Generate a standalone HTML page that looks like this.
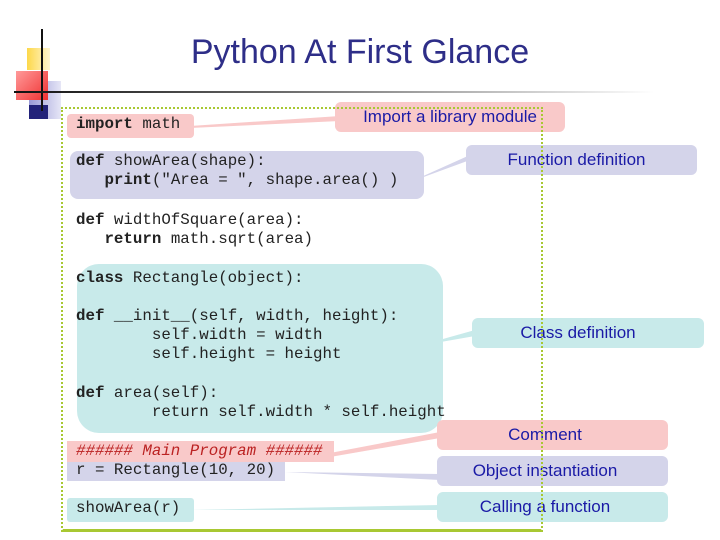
<!DOCTYPE html>
<html><head><meta charset="utf-8"><style>
body{margin:0;width:720px;height:540px;background:#fff;position:relative;overflow:hidden;font-family:"Liberation Sans",sans-serif}
.a{position:absolute}
.c{position:absolute;font-family:"Liberation Mono",monospace;font-size:15.8px;color:#222;white-space:pre;line-height:19px}
.c b{font-weight:bold}
.co{position:absolute;border-radius:6px;color:#1a1aa6;font-size:17px;text-align:center;line-height:30px}
.pk{background:#f9c9c9}.lv{background:#d4d4ea}.cy{background:#c8eaea}
</style></head><body>
<div class="a" style="left:27px;top:48px;width:23px;height:22px;background:linear-gradient(90deg,#fdd84a,#fff6d0)"></div>
<div class="a" style="left:29px;top:81px;width:32px;height:38px;background:linear-gradient(90deg,#9a9ad8,#e6e6f6)"></div>
<div class="a" style="left:16px;top:71px;width:32px;height:29px;background:linear-gradient(135deg,#ff9a9a,#f03030)"></div>
<div class="a" style="left:29px;top:105px;width:19px;height:14px;background:#22227a"></div>
<div class="a" style="left:41px;top:29px;width:2px;height:82px;background:#111"></div>
<div class="a" style="left:14px;top:91px;width:640px;height:2px;background:linear-gradient(90deg,#111,#666 40%,#fff)"></div>
<div class="a" style="left:0;top:33px;width:720px;text-align:center;font-size:34px;color:#2e2e88">Python At First Glance</div>
<svg class="a" style="left:0;top:0" width="720" height="540">
<polygon points="190,126 340,116 340,121 190,128" fill="#f9c9c9"/>
<polygon points="410,182 470,155 470,160" fill="#d4d4ea"/>
<polygon points="418,346 475,330 475,336" fill="#c8eaea"/>
<polygon points="330,453 440,432 440,438 330,457" fill="#f9c9c9"/>
<polygon points="285,472 440,474 440,480" fill="#d4d4ea"/>
<polygon points="190,510 440,505 440,510" fill="#c8eaea"/>
</svg>
<div class="a pk" style="left:67px;top:114px;width:127px;height:24px;border-radius:4px"></div>
<div class="a lv" style="left:70px;top:151px;width:354px;height:48px;border-radius:8px"></div>
<div class="a cy" style="left:77px;top:264px;width:366px;height:169px;border-radius:22px"></div>
<div class="a pk" style="left:67px;top:441px;width:267px;height:21px"></div>
<div class="a lv" style="left:67px;top:462px;width:218px;height:19px"></div>
<div class="a cy" style="left:67px;top:498px;width:127px;height:24px;border-radius:3px"></div>
<div class="co pk" style="left:335px;top:102px;width:230px;height:30px">Import a library module</div>
<div class="co lv" style="left:466px;top:145px;width:231px;height:30px;text-indent:-10px">Function definition</div>
<div class="co cy" style="left:472px;top:318px;width:232px;height:30px;text-indent:-20px">Class definition</div>
<div class="co pk" style="left:437px;top:420px;width:231px;height:30px;text-indent:-15px">Comment</div>
<div class="co lv" style="left:437px;top:456px;width:231px;height:30px;text-indent:-15px">Object instantiation</div>
<div class="co cy" style="left:437px;top:492px;width:231px;height:30px;text-indent:-15px">Calling a function</div>
<div class="a" style="left:61px;top:107px;width:478px;height:420px;border:2px dotted #a8c832;border-bottom:3px solid #a8c832"></div>
<div class="c" style="left:76px;top:115px"><b>import</b> math</div>
<div class="c" style="left:76px;top:152px"><b>def</b> showArea(shape):
   <b>print</b>("Area = ", shape.area() )</div>
<div class="c" style="left:76px;top:211px"><b>def</b> widthOfSquare(area):
   <b>return</b> math.sqrt(area)</div>
<div class="c" style="left:76px;top:269px"><b>class</b> Rectangle(object):</div>
<div class="c" style="left:76px;top:307px"><b>def</b> __init__(self, width, height):
        self.width = width
        self.height = height</div>
<div class="c" style="left:76px;top:384px"><b>def</b> area(self):
        return self.width * self.height</div>
<div class="c" style="left:76px;top:442px;color:#b22;font-style:italic">###### Main Program ######</div>
<div class="c" style="left:76px;top:461px">r = Rectangle(10, 20)</div>
<div class="c" style="left:76px;top:499px">showArea(r)</div>
</body></html>
